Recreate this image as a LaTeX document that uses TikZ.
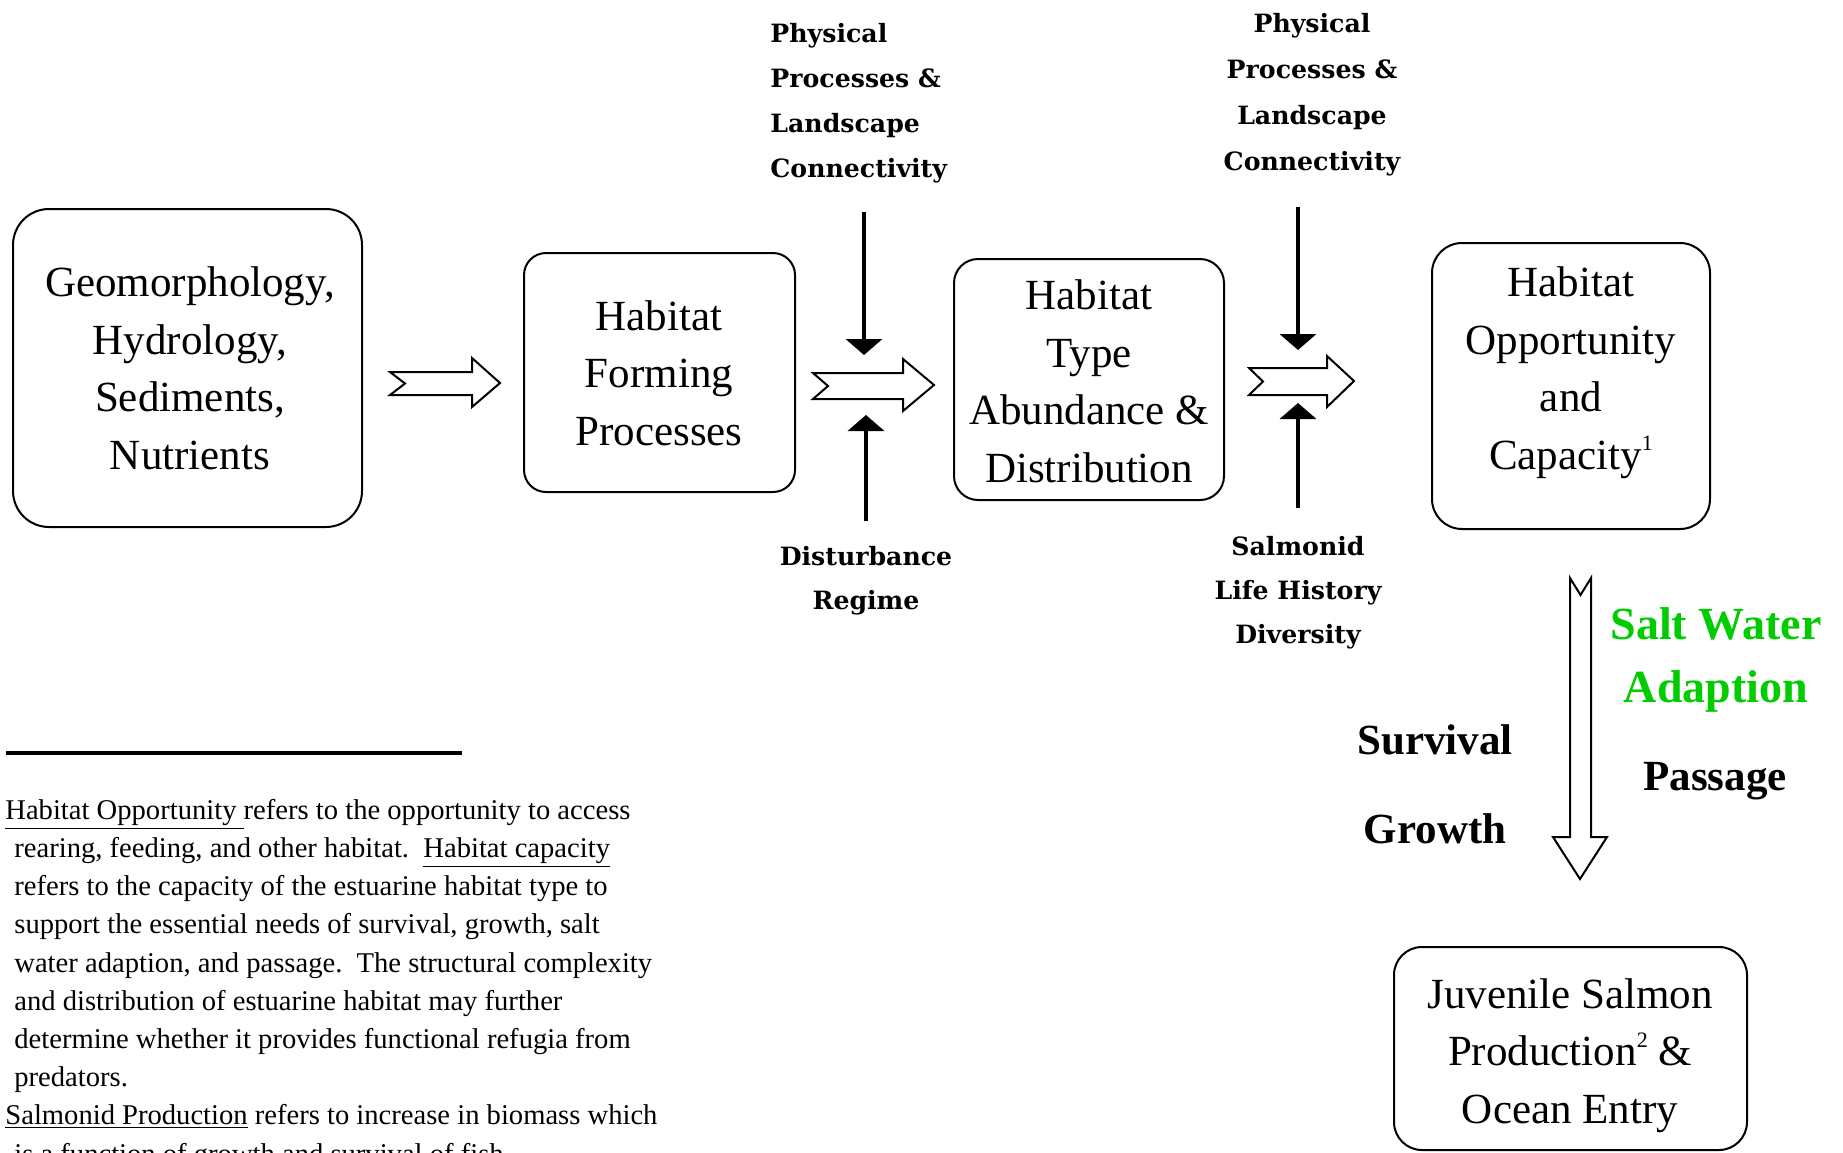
\documentclass[tikz,border=0pt]{standalone}
\usepackage{fontspec}
\setmainfont{Liberation Serif}
\newfontfamily\tagfont{DejaVu Serif}
\usetikzlibrary{arrows.meta}
\definecolor{saltgreen}{RGB}{0,204,0}
% small raised note marker used in the stage boxes
\newcommand{\notemark}[1]{\raisebox{0.42em}{\fontsize{11}{11}\selectfont #1}}
% underline with a slightly heavier rule
\newcommand{\termline}[1]{\setlength{\fboxrule}{0pt}\underline{#1}}
\begin{document}
\begin{tikzpicture}[x=0.5pt,y=-0.5pt,
  stagebox/.style={draw,line width=1pt,rounded corners=#1,inner sep=0pt,outer sep=0pt},
  stagetext/.style={font=\fontsize{21.5}{28.75}\selectfont,align=center,inner sep=0pt},
  driver/.style={font=\tagfont\bfseries\fontsize{12.6}{22.5}\selectfont,inner sep=0pt},
  outcome/.style={font=\bfseries\fontsize{21.5}{44.5}\selectfont,align=center,inner sep=0pt},
  feed/.style={line width=2pt,-{Triangle[width=18pt,length=8pt]}},
  hollow/.style={draw,line width=1pt,fill=white,line join=miter},
  note/.style={font=\fontsize{14.3}{19.1}\selectfont,align=left,inner sep=0pt},
]
\useasboundingbox (0,0) rectangle (1843,1152);

% stage boxes
\node[stagebox=18pt,minimum width=174.5pt,minimum height=159pt] (geo) at (187.5,368) {};
\node[stagebox=11pt,minimum width=135.5pt,minimum height=119.5pt] (forming) at (659.5,372.5) {};
\node[stagebox=12pt,minimum width=135pt,minimum height=120.5pt] (abund) at (1089,379.5) {};
\node[stagebox=15pt,minimum width=139pt,minimum height=143pt] (opp) at (1571,386) {};
\node[stagebox=14pt,minimum width=176.5pt,minimum height=101.5pt] (juv) at (1570.5,1048.5) {};

% stage texts (anchored at the baseline of their last line)
\node[stagetext,anchor=base] (geotext) at (190,469) {Geomorphology,\\Hydrology,\\Sediments,\\Nutrients};
\node[stagetext,anchor=base] (formtext) at (659,445) {Habitat\\Forming\\Processes};
\node[stagetext,anchor=base] (abundtext) at (1089,482) {Habitat\\Type\\Abundance \&\\Distribution};
\node[stagetext,anchor=base] (opptext) at (1571,469) {Habitat\\Opportunity\\and\\Capacity\notemark{1}};
\node[stagetext,anchor=base] (juvtext) at (1570,1123) {Juvenile Salmon\\Production\notemark{2} \&\\Ocean Entry};

% hollow flow arrows between stages
\draw[hollow] (390,372) -- (472,372) -- (472,358) -- (500,383) -- (472,407) -- (472,395) -- (390,395) -- (405,383.5) -- cycle;
\draw[hollow] (813,373) -- (903,373) -- (903,359) -- (934,385) -- (903,411) -- (903,399) -- (813,399) -- (828,386) -- cycle;
\draw[hollow] (1249,368) -- (1327,368) -- (1327,356) -- (1354,381) -- (1327,407) -- (1327,395) -- (1249,395) -- (1263,381.5) -- cycle;
\draw[hollow] (1570,578) -- (1580.5,595) -- (1591,578) -- (1591,837) -- (1607,837) -- (1580,879) -- (1553,837) -- (1570,837) -- cycle;

% driver labels
\node[driver,anchor=base west,align=left] (phys1) at (770,177) {Physical\\Processes \&\\Landscape\\Connectivity};
\node[driver,anchor=base,align=center,font=\tagfont\bfseries\fontsize{12.6}{23}\selectfont] (phys2) at (1312,170) {Physical\\Processes \&\\Landscape\\Connectivity};
\node[driver,anchor=base,align=center,font=\tagfont\bfseries\fontsize{12.6}{22}\selectfont] (dist) at (866,609) {Disturbance\\Regime};
\node[driver,anchor=base,align=center,font=\tagfont\bfseries\fontsize{12.6}{22}\selectfont] (life) at (1298,643) {Salmonid\\Life History\\Diversity};

% driver arrows
\coordinate (d1a) at (864,212); \coordinate (d1b) at (864,355);
\coordinate (u1a) at (866,521); \coordinate (u1b) at (866,415);
\coordinate (d2a) at (1298,207); \coordinate (d2b) at (1298,350);
\coordinate (u2a) at (1298,508); \coordinate (u2b) at (1298,403);
\draw[feed] (d1a) -- (d1b);
\draw[feed] (u1a) -- (u1b);
\draw[feed] (d2a) -- (d2b);
\draw[feed] (u2a) -- (u2b);

% outcome labels
\node[outcome,anchor=base,text=saltgreen,font=\bfseries\fontsize{23}{31.5}\selectfont] (salt) at (1716,702) {Salt Water\\Adaption};
\node[outcome,anchor=base] (pass) at (1715,790) {Passage};
\node[outcome,anchor=base] (surv) at (1435,843) {Survival\\Growth};

% footnote rule and notes
\coordinate (rulea) at (6,753); \coordinate (ruleb) at (462,753);
\draw[line width=2pt] (rulea) -- (ruleb);
\node[note,anchor=base west] (notes) at (5,1163) {%
\underline{Habitat Opportunity }refers to the opportunity to access\\
\hspace*{4.5pt}rearing, feeding, and other habitat.\ \ \underline{Habitat capacity}\\
\hspace*{4.5pt}refers to the capacity of the estuarine habitat type to\\
\hspace*{4.5pt}support the essential needs of survival, growth, salt\\
\hspace*{4.5pt}water adaption, and passage.\ \ The structural complexity\\
\hspace*{4.5pt}and distribution of estuarine habitat may further\\
\hspace*{4.5pt}determine whether it provides functional refugia from\\
\hspace*{4.5pt}predators.\\
\underline{Salmonid Production} refers to increase in biomass which\\
\hspace*{4.5pt}is a function of growth and survival of fish.};
\end{tikzpicture}
\end{document}
